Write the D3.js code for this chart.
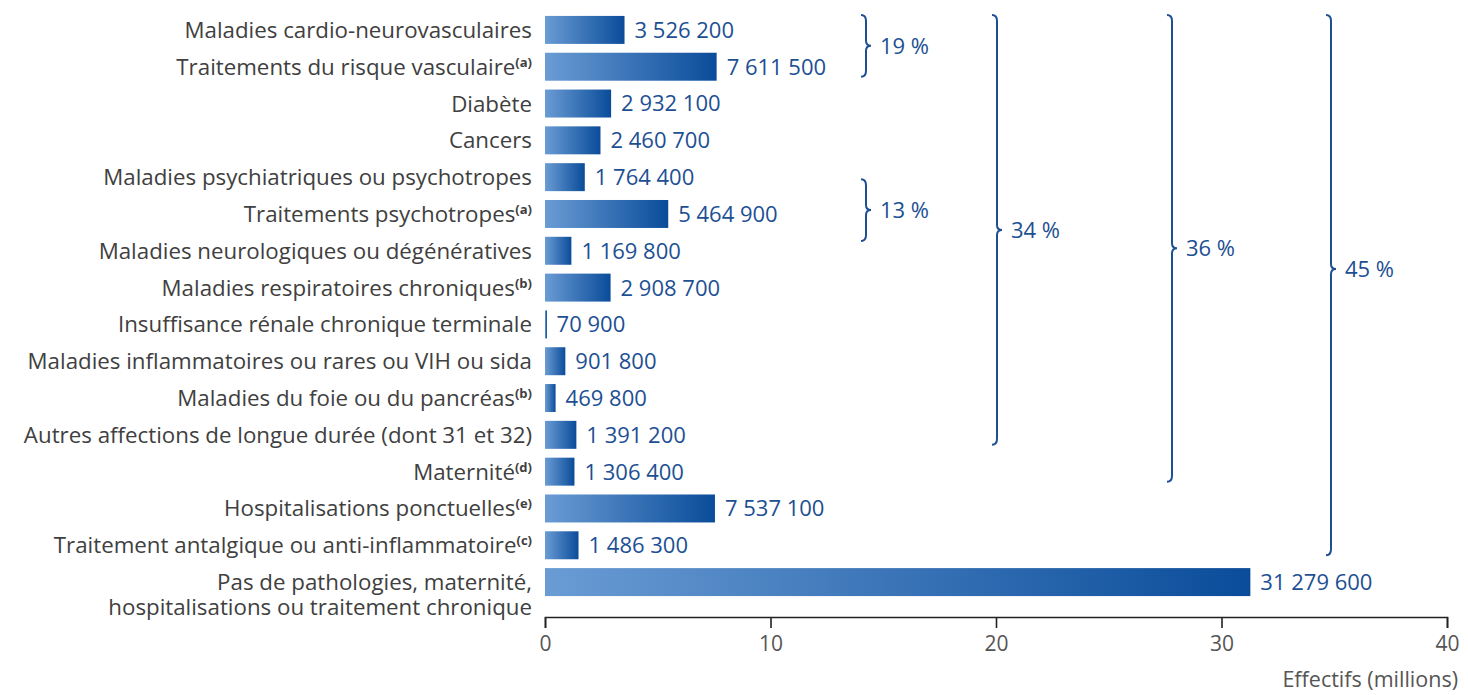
<!DOCTYPE html>
<html>
<head>
<meta charset="utf-8">
<script src="https://cdn.jsdelivr.net/npm/d3@7"></script>
<style>
  body { margin: 0; background: white; }
  text { font-family: "Open Sans", "Noto Sans", sans-serif; }
</style>
</head>
<body>
<svg id="chart"></svg>
<script>
// categories, top to bottom ("\n" = line break)
let categories = [
  "Maladies cardio-neurovasculaires",
  "Traitements du risque vasculaire",
  "Diabète",
  "Cancers",
  "Maladies psychiatriques ou psychotropes",
  "Traitements psychotropes",
  "Maladies neurologiques ou dégénératives",
  "Maladies respiratoires chroniques",
  "Insuffisance rénale chronique terminale",
  "Maladies inflammatoires ou rares ou VIH ou sida",
  "Maladies du foie ou du pancréas",
  "Autres affections de longue durée (dont 31 et 32)",
  "Maternité",
  "Hospitalisations ponctuelles",
  "Traitement antalgique ou anti-inflammatoire",
  "Pas de pathologies, maternité,\nhospitalisations ou traitement chronique"
]
let notes = ["", "(a)", "", "", "", "(a)", "", "(b)", "", "", "(b)", "", "(d)", "(e)", "(c)", ""]
let values = [3526200, 7611500, 2932100, 2460700, 1764400, 5464900, 1169800, 2908700,
              70900, 901800, 469800, 1391200, 1306400, 7537100, 1486300, 31279600]
let xTicks = [0, 10, 20, 30, 40]
let axisTitle = "Effectifs (millions)"

// brace groups: first row, last row, label
let braceFrom = [0, 4, 0, 0, 0]
let braceTo = [1, 5, 11, 12, 14]
let braceLabels = ["19 %", "13 %", "34 %", "36 %", "45 %"]

let width = 1468, height = 695
let svg = d3.select("#chart").attr("width", width).attr("height", height)

let x = d3.scaleLinear().domain([0, 40]).range([545, 1447])
let y = d3.scaleBand().domain(d3.range(categories.length)).range([11.5, 600.5])
  .paddingInner(0.24).paddingOuter(0.12)

let blue = "#1d4f93"
let grey = "#404040"

let defs = svg.append("defs")
let grad = defs.append("linearGradient").attr("id", "barGrad")
  .attr("x1", 0).attr("x2", 1).attr("y1", 0).attr("y2", 0)
grad.append("stop").attr("offset", 0).attr("stop-color", "#6a9cd4")
grad.append("stop").attr("offset", 1).attr("stop-color", "#0a4c9a")

// bars
svg.append("g").selectAll("rect").data(values).enter()
  .append("rect")
  .attr("x", x(0))
  .attr("y", (d, i) => y(i))
  .attr("width", d => Math.max(2, x(d / 1e6) - x(0)))
  .attr("height", y.bandwidth())
  .attr("fill", "url(#barGrad)")

// value labels
let fmt = v => d3.format(",")(v).replace(/,/g, " ")
svg.append("g").selectAll("text").data(values).enter()
  .append("text")
  .attr("x", d => x(d / 1e6) + 10)
  .attr("y", (d, i) => y(i) + y.bandwidth() / 2)
  .attr("dy", "0.36em")
  .attr("fill", blue)
  .attr("font-size", 22)
  .text(d => fmt(d))

// category labels
let labels = svg.append("g").selectAll("text").data(categories).enter()
  .append("text")
  .attr("y", (d, i) => y(i) + y.bandwidth() / 2)
  .attr("text-anchor", "end")
  .attr("fill", grey)
  .attr("font-size", 22.3)

labels.each(function(d, i) {
  let t = d3.select(this)
  let lines = d.split("\n")
  lines.forEach((line, k) => {
    t.append("tspan").attr("x", 532).attr("dy", k == 0 ? "0.36em" : 25).text(line)
  })
  if (notes[i]) {
    t.append("tspan").attr("dy", -8).attr("font-size", 13).attr("font-weight", "bold")
      .text(notes[i])
  }
})

// axis
let axis = svg.append("g")
  .attr("transform", "translate(0,617)")
  .call(d3.axisBottom(x).tickValues(xTicks).tickSize(11).tickPadding(8))
axis.select(".domain").attr("stroke", "#222").attr("stroke-width", 1.6)
axis.selectAll(".tick line").attr("stroke", "#222").attr("stroke-width", 1.6)
axis.selectAll(".tick text").attr("font-size", 21).attr("fill", "#555")
  .attr("font-family", "'Open Sans', sans-serif")

svg.append("text")
  .attr("x", 1458).attr("y", 687)
  .attr("text-anchor", "end")
  .attr("font-size", 21.5).attr("fill", "#555")
  .text(axisTitle)

// braces
let braceX = [866, 866, 997, 1172, 1331]
let braceShift = [0, 17, 0, 0, 0]
let braceTip = [0.5, 0.5, 0.5, 0.5, 0.47]

function bracePath(bx, y0, y1, ym) {
  return `M${bx - 5},${y0} Q${bx},${y0} ${bx},${y0 + 6} L${bx},${ym - 5} Q${bx},${ym} ${bx + 5},${ym}` +
    ` Q${bx},${ym} ${bx},${ym + 5} L${bx},${y1 - 6} Q${bx},${y1} ${bx - 5},${y1}`
}

let braces = svg.append("g").selectAll("g").data(braceLabels).enter().append("g")
braces.each(function(d, i) {
  let y0 = y(braceFrom[i]) + y.bandwidth() / 2 - 15 + braceShift[i]
  let y1 = y(braceTo[i]) + y.bandwidth() / 2 + 10 + braceShift[i]
  let ym = y0 + (y1 - y0) * braceTip[i]
  let g = d3.select(this)
  g.append("path")
    .attr("d", bracePath(braceX[i], y0, y1, ym))
    .attr("fill", "none")
    .attr("stroke", blue)
    .attr("stroke-width", 2)
  g.append("text")
    .attr("x", braceX[i] + 14)
    .attr("y", ym)
    .attr("dy", "0.36em")
    .attr("fill", blue)
    .attr("font-size", 22)
    .text(d)
})
</script>
</body>
</html>
